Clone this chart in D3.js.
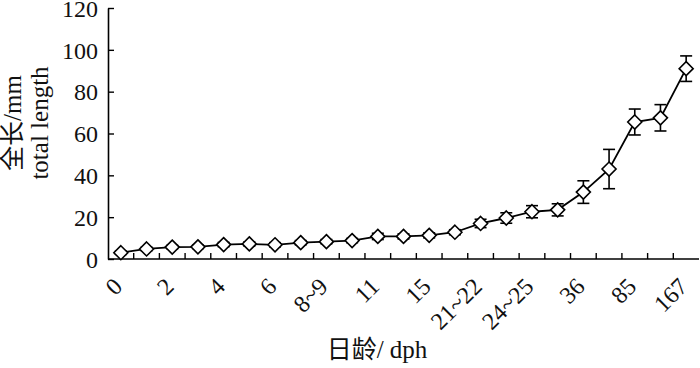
<!DOCTYPE html>
<html>
<head>
<meta charset="utf-8">
<script src="https://cdn.jsdelivr.net/npm/d3@7"></script>
<style>
  body { margin: 0; background: #fff; }
  text { font-family: "Liberation Serif", "Times New Roman", "Noto Sans CJK SC", serif; }
</style>
</head>
<body>
<svg id="chart"></svg>
<script>
// tick labels (only every other category is labelled in the figure)
var ageLabels = ["0", "", "2", "", "4", "", "6", "", "8~9", "", "11", "", "15", "",
                 "21~22", "", "24~25", "", "36", "", "85", "", "167"]
// mean total length (mm) and standard deviation
var lengths = [3.0, 4.8, 5.7, 5.8, 6.9, 7.2, 6.8, 7.8, 8.3, 8.8, 10.8, 10.8, 11.3, 12.8,
               17.0, 19.6, 22.6, 23.5, 32.0, 43.0, 65.5, 67.5, 91.0]
var errors = [0.8, 0.8, 0.8, 0.8, 1.0, 1.0, 1.0, 1.0, 1.0, 1.0, 1.5, 1.2, 1.2, 1.2,
              2.0, 2.5, 2.9, 2.9, 5.4, 9.4, 6.2, 6.3, 6.1]
var yTicks = [0, 20, 40, 60, 80, 100, 120]

var dimensions = {
    width: 700,
    height: 368,
    margin: { top: 8, bottom: 109, right: 1, left: 108 }
}

var svg = d3.select("#chart")
    .attr("width", dimensions.width)
    .attr("height", dimensions.height)

var idx = d3.range(lengths.length)
var x0 = dimensions.margin.left
var x1 = dimensions.width - dimensions.margin.right
var yBottom = dimensions.height - dimensions.margin.bottom

var xScale = d3.scaleBand()
    .domain(idx)
    .range([x0, x1])

var yScale = d3.scaleLinear()
    .domain([0, 120])
    .range([yBottom, dimensions.margin.top])

// y axis, ticks pointing inward
var yAxis = svg.append("g")
    .attr("transform", "translate(" + x0 + ",0)")
    .call(d3.axisLeft(yScale).tickValues(yTicks).tickSize(-6).tickPadding(10).tickSizeOuter(0))
yAxis.select(".domain").attr("stroke-width", 1.6)
yAxis.selectAll("line").attr("stroke-width", 1.4)
yAxis.selectAll("text")
    .style("font-size", "24px")
    .style("font-family", "'Liberation Serif', serif")
    .attr("dy", "0.34em")
    .attr("fill", "#111")

// x axis line
svg.append("line")
    .attr("x1", x0).attr("x2", x1)
    .attr("y1", yBottom).attr("y2", yBottom)
    .attr("stroke", "#000").attr("stroke-width", 1.6)

// x ticks at category boundaries, pointing inward
svg.append("g").selectAll("line")
    .data(idx.slice(1))
    .enter().append("line")
    .attr("x1", d => xScale(d)).attr("x2", d => xScale(d))
    .attr("y1", yBottom).attr("y2", yBottom - 6)
    .attr("stroke", "#000").attr("stroke-width", 1.4)

var cx = i => xScale(i) + xScale.bandwidth() / 2

// rotated category labels
svg.append("g").selectAll("text")
    .data(idx.filter(i => ageLabels[i] != ""))
    .enter().append("text")
    .attr("transform", d => "translate(" + (cx(d) - 3) + "," + (yBottom + 23) + ") rotate(-45)")
    .attr("text-anchor", "end")
    .attr("dy", "0.35em")
    .style("font-size", "24px")
    .attr("fill", "#111")
    .text(d => ageLabels[d])

// line
svg.append("path")
    .datum(idx)
    .attr("fill", "none")
    .attr("stroke", "#000")
    .attr("stroke-width", 1.8)
    .attr("d", d3.line().x(cx).y(i => yScale(lengths[i])))

// error bars
var eb = svg.append("g").attr("stroke", "#000").attr("stroke-width", 1.6)
idx.forEach(function(i){
    var yTop = yScale(lengths[i] + errors[i])
    var yBot = yScale(lengths[i] - errors[i])
    eb.append("line").attr("x1", cx(i)).attr("x2", cx(i)).attr("y1", yTop).attr("y2", yBot)
    eb.append("line").attr("x1", cx(i) - 6).attr("x2", cx(i) + 6).attr("y1", yTop).attr("y2", yTop)
    eb.append("line").attr("x1", cx(i) - 6).attr("x2", cx(i) + 6).attr("y1", yBot).attr("y2", yBot)
})

// diamond markers
svg.append("g").selectAll("path")
    .data(idx)
    .enter().append("path")
    .attr("transform", i => "translate(" + cx(i) + "," + yScale(lengths[i]) + ")")
    .attr("d", "M0,-7L7,0L0,7L-7,0Z")
    .attr("fill", "#fff")
    .attr("stroke", "#000")
    .attr("stroke-width", 1.6)

// axis titles
svg.append("text")
    .attr("x", 377)
    .attr("y", 358)
    .attr("text-anchor", "middle")
    .style("font-size", "25px")
    .attr("fill", "#111")
    .text("日龄/ dph")

var yt = svg.append("text")
    .attr("transform", "translate(0,123) rotate(-90)")
    .attr("text-anchor", "middle")
    .style("font-size", "25px")
    .attr("fill", "#111")
yt.append("tspan").attr("x", 0).attr("y", 21).text("全长/mm")
yt.append("tspan").attr("x", 0).attr("y", 48).text("total length")
</script>
</body>
</html>
